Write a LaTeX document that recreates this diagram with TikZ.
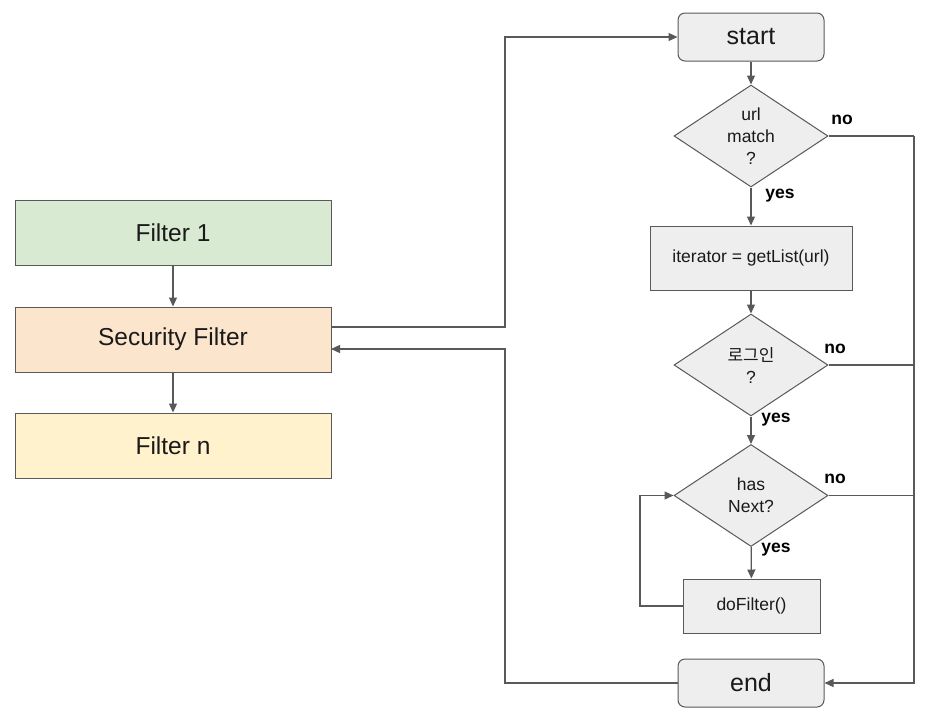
\documentclass[tikz,border=0pt]{standalone}
\usepackage{fontspec}
\setmainfont{Liberation Sans}
\newfontfamily\krfont{Noto Sans CJK KR}
\usetikzlibrary{arrows.meta,shapes.geometric}
\definecolor{linegray}{HTML}{595959}
\definecolor{boxgray}{HTML}{EEEEEE}
\definecolor{fgreen}{HTML}{D9EAD3}
\definecolor{forange}{HTML}{FCE5CD}
\definecolor{fyellow}{HTML}{FFF2CC}
\definecolor{txt}{HTML}{1A1A1A}
\begin{document}
\begin{tikzpicture}[x=1pt,y=-1pt,
  line/.style={draw=linegray,line width=1.2pt},
  arr/.style={line,-{Triangle[length=9pt,width=8pt]}},
  filterbox/.style={draw=linegray,line width=1pt,minimum width=316pt,minimum height=65pt,inner sep=0pt,text=txt,font=\fontsize{24.5}{28}\selectfont},
  termbox/.style={draw=linegray,line width=1pt,fill=boxgray,rounded corners=7pt,minimum width=146pt,minimum height=48pt,inner sep=0pt,text=txt,font=\fontsize{25}{28}\selectfont},
  procbox/.style={draw=linegray,line width=1pt,fill=boxgray,inner sep=0pt,text=txt,font=\fontsize{17.5}{21}\selectfont},
  decision/.style={draw=linegray,line width=1pt,fill=boxgray,diamond,aspect=1.5,minimum width=154pt,minimum height=102pt,inner sep=0pt,align=center,text=txt,font=\fontsize{17.5}{22}\selectfont},
  lbl/.style={font=\bfseries\fontsize{17.5}{21}\selectfont,inner sep=0pt,text=black}
]
\useasboundingbox (0,0) rectangle (946,716);
% left filters
\node[filterbox,fill=fgreen] (f1) at (173,232.5) {Filter 1};
\node[filterbox,fill=forange] (sf) at (173,339.5) {Security Filter};
\node[filterbox,fill=fyellow] (fn) at (173,445.5) {Filter n};
\draw[arr] (f1) -- (sf);
\draw[arr] (sf) -- (fn);
% right flow
\node[termbox] (start) at (751,37) {start};
\node[decision] (d1) at (751,136) {url\\match\\?};
\node[procbox,minimum width=202pt,minimum height=64pt] (it) at (751,258) {iterator = getList(url)};
\node[decision] (d2) at (751,365) {{\krfont\fontsize{17}{22}\selectfont 로그인}\\?};
\node[decision] (d3) at (751,495.5) {has\\Next?};
\node[procbox,minimum width=137pt,minimum height=54pt] (df) at (751.5,606) {doFilter()};
\node[termbox] (end) at (751,683) {end};
\coordinate (rtop) at (914,136);
\coordinate (r2) at (914,365);
\coordinate (r3) at (914,495.5);
\coordinate (rbot) at (914,683);
\draw[arr] (start) -- (d1);
\draw[arr] (d1) -- (it);
\draw[arr] (it) -- (d2);
\draw[arr] (d2) -- (d3);
\draw[arr] (d3) -- (df);
\draw[line] (d1.east) -- (rtop);
\draw[line] (d2.east) -- (r2);
\draw[line] (d3.east) -- (r3);
\draw[arr] (rtop) -- (rbot) -- (end.east);
\draw[arr] (df.west) -- (640,606) |- (d3.west);
% security filter loops
\coordinate (sfout) at (331,327);
\coordinate (sfin) at (331,349);
\draw[arr] (sfout) -- (505,327) |- (start.west);
\draw[arr] (end.west) -- (505,683) |- (sfin);
% labels
\node[lbl] (n1) at (842,120) {no};
\node[lbl] (n2) at (835,349) {no};
\node[lbl] (n3) at (835,479) {no};
\node[lbl] (y1) at (780,196) {yes};
\node[lbl] (y2) at (776,420) {yes};
\node[lbl] (y3) at (776,550) {yes};
\end{tikzpicture}
\end{document}
